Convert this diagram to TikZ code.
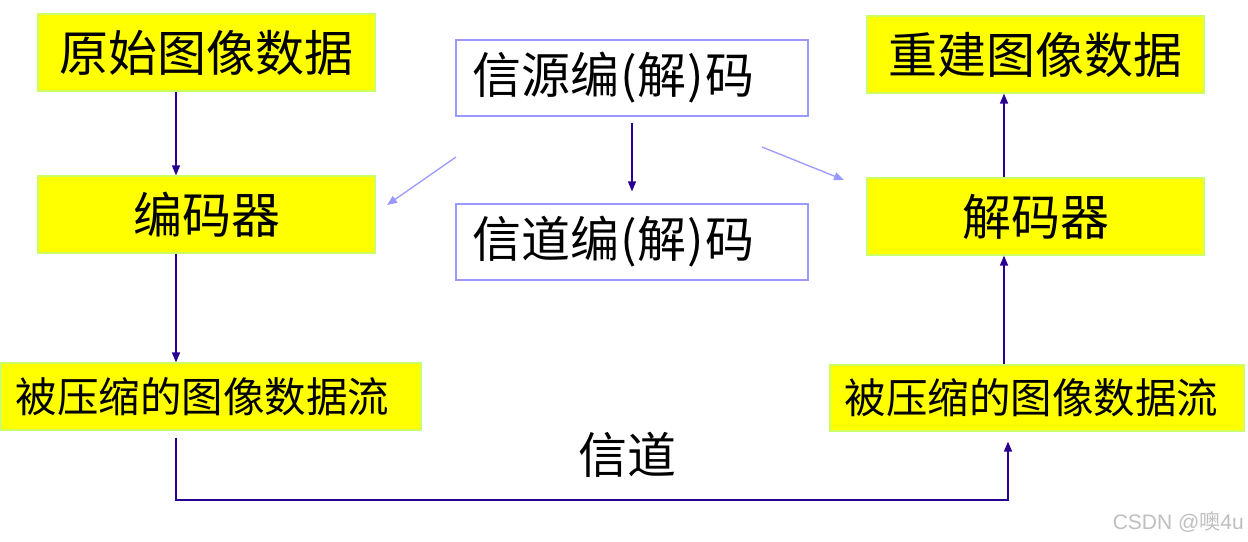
\documentclass[tikz,border=0pt]{standalone}
\usepackage{fontspec}
\usetikzlibrary{arrows.meta,calc}
\newfontfamily\cjk{Noto Sans CJK SC}
\setsansfont{Liberation Sans}
\definecolor{boxyellow}{HTML}{FFFF00}
\definecolor{boxedge}{HTML}{CCFF66}
\definecolor{darkline}{HTML}{2A0090}
\definecolor{lightline}{HTML}{9999FF}
\tikzset{
  ybox/.style={rectangle, fill=boxyellow, draw=boxedge, line width=1.2pt, inner sep=0pt, font=\cjk\fontsize{49}{55}\selectfont},
  wbox/.style={rectangle, fill=white, draw=lightline, line width=1.2pt, inner sep=0pt},
  darrow/.style={draw=darkline, line width=1.5pt, -{Triangle[length=10pt,width=8pt]}},
  larrow/.style={draw=lightline, line width=1.3pt, -{Triangle[length=10pt,width=8pt]}},
  bigtext/.style={font=\cjk\fontsize{49}{55}\selectfont, inner sep=0pt},
  midtext/.style={font=\cjk\fontsize{41.5}{48}\selectfont}
}
\begin{document}
\begin{tikzpicture}[x=1pt,y=-1pt]
\useasboundingbox[fill=white] (0,0) rectangle (1248,541);
% boxes
\node[ybox, minimum width=337pt, minimum height=77pt] (src) at (206.5,52.5) {原始图像数据};
\node[ybox, minimum width=337pt, minimum height=77pt] (enc) at (206.5,214.5) {编码器};
\node[ybox, minimum width=420pt, minimum height=67pt, midtext] (lstream) at (211,396.5) {被压缩的图像数据流\rule{17pt}{0pt}};
\node[wbox, minimum width=352pt, minimum height=76pt] (scode) at (632,78) {};
\node[bigtext, anchor=west] (scodet) at (472,78) {信源编\hspace{1pt}(\hspace{1pt}解\hspace{1pt})\hspace{1pt}码};
\node[wbox, minimum width=352pt, minimum height=76pt] (ccode) at (632,242) {};
\node[bigtext, anchor=west] (ccodet) at (472,242) {信道编\hspace{1pt}(\hspace{1pt}解\hspace{1pt})\hspace{1pt}码};
\node[ybox, minimum width=337pt, minimum height=77pt] (rec) at (1035.5,54.5) {重建图像数据};
\node[ybox, minimum width=337pt, minimum height=77pt] (dec) at (1035.5,216.5) {解码器};
\node[ybox, minimum width=414pt, minimum height=66pt, midtext] (rstream) at (1037,398) {被压缩的图像数据流\rule{11pt}{0pt}};
\node[bigtext] (chan) at (627,455) {信道};
\node[font=\sffamily\fontsize{21}{24}\selectfont, text=black!25, anchor=east, inner sep=0pt] (wm) at (1244,522) {CSDN @{\cjk 噢}4u};
% reference coordinates for connector columns
\coordinate (xl) at (176,0);
\coordinate (xr) at (1004,0);
\coordinate (xb) at (1008,0);
\coordinate (xm) at (632,0);
\coordinate (bot) at (0,500);
% dark connectors
\draw[darrow] (src.south -| xl) -- (enc.north -| xl);
\draw[darrow] (enc.south -| xl) -- (lstream.north -| xl);
\draw[darrow, shorten <=7pt, shorten >=10pt] (lstream.south -| xl) -- (bot -| xl) -- (bot -| xb) -- (rstream.south -| xb);
\draw[darrow] (rstream.north -| xr) -- (dec.south -| xr);
\draw[darrow] (dec.north -| xr) -- (rec.south -| xr);
\draw[darrow, shorten <=6pt, shorten >=12pt] (scode.south -| xm) -- (ccode.north -| xm);
% light arrows
\coordinate (la1) at (456,157);
\coordinate (la2) at (387,205);
\coordinate (ra1) at (762,147);
\coordinate (ra2) at (844,180);
\draw[larrow] (la1) -- (la2);
\draw[larrow] (ra1) -- (ra2);
\end{tikzpicture}
\end{document}
